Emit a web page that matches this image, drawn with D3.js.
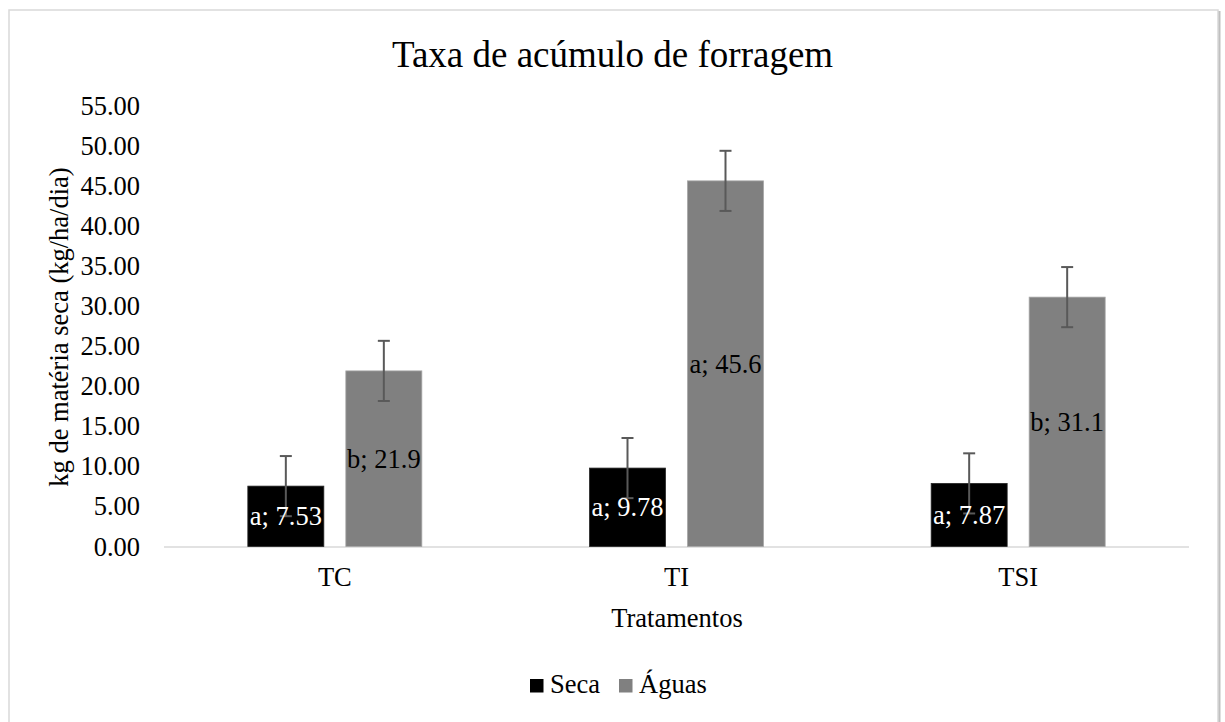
<!DOCTYPE html>
<html>
<head>
<meta charset="utf-8">
<script src="https://cdn.jsdelivr.net/npm/d3@7"></script>
<style>
  body { margin: 0; background: #fff; }
</style>
</head>
<body>
<svg id="chart" width="1225" height="722"></svg>
<script>
// chart data
const categories = ["TC", "TI", "TSI"];
const series = ["Seca", "Águas"];
const seca = [7.53, 9.78, 7.87];
const aguas = [21.9, 45.6, 31.1];
const secaErr = [3.75, 3.75, 3.75];
const aguasErr = [3.75, 3.75, 3.75];
const secaLetters = ["a", "a", "a"];
const aguasLetters = ["b", "a", "b"];
const yTicks = [0, 5, 10, 15, 20, 25, 30, 35, 40, 45, 50, 55];

const colors = { "Seca": "#000000", "Águas": "#808080" };
const labelColors = { "Seca": "#ffffff", "Águas": "#000000" };
const FONT = "Liberation Serif";
const FS = 26.5;

const rows = [];
categories.forEach((c, i) => {
  rows.push({ cat: c, s: "Seca", v: seca[i], e: secaErr[i], l: secaLetters[i] });
  rows.push({ cat: c, s: "Águas", v: aguas[i], e: aguasErr[i], l: aguasLetters[i] });
});

const svg = d3.select("#chart"),
  width = +svg.attr("width"),
  height = +svg.attr("height");

// outer frame
svg.append("rect")
  .attr("x", 9).attr("y", 10)
  .attr("width", 1209).attr("height", 720)
  .attr("fill", "#fff")
  .attr("stroke", "#d9d9d9")
  .attr("stroke-width", 1.5);
svg.append("line")
  .attr("x1", 1219.5).attr("x2", 1219.5)
  .attr("y1", 11).attr("y2", height)
  .attr("stroke", "#bfbfbf").attr("stroke-width", 2);

const plotL = 164, plotR = 1189, plotT = 105.5, plotB = 546.5;

const x0 = d3.scaleBand().domain(categories).range([plotL, plotR]).padding(0);
const bw = x0.bandwidth();
const x1 = d3.scaleBand().domain(series)
  .range([bw / 2 - 87, bw / 2 + 87])
  .paddingInner(0.2245);
const y = d3.scaleLinear().domain([0, 55]).range([plotB, plotT]);

// title
svg.append("text")
  .attr("x", 612.5).attr("y", 67)
  .attr("text-anchor", "middle")
  .attr("font-family", FONT)
  .attr("font-size", 37)
  .attr("fill", "#000")
  .text("Taxa de acúmulo de forragem");

// y axis labels
svg.append("g")
  .selectAll("text")
  .data(yTicks)
  .enter().append("text")
    .attr("x", 140)
    .attr("y", d => y(d))
    .attr("dy", "0.34em")
    .attr("text-anchor", "end")
    .attr("font-family", FONT)
    .attr("font-size", FS)
    .text(d => d3.format(".2f")(d));

svg.append("text")
  .attr("transform", "translate(68,327) rotate(-90)")
  .attr("text-anchor", "middle")
  .attr("font-family", FONT)
  .attr("font-size", FS)
  .text("kg de matéria seca (kg/ha/dia)");

// baseline
svg.append("line")
  .attr("x1", plotL).attr("x2", plotR)
  .attr("y1", y(0) + 0.5).attr("y2", y(0) + 0.5)
  .attr("stroke", "#d9d9d9").attr("stroke-width", 1.5);

// bars
const g = svg.append("g");
g.selectAll("rect.bar")
  .data(rows)
  .enter().append("rect")
    .attr("class", "bar")
    .attr("x", d => x0(d.cat) + x1(d.s))
    .attr("y", d => y(d.v))
    .attr("width", x1.bandwidth())
    .attr("height", d => y(0) - y(d.v))
    .attr("fill", d => colors[d.s])
    .attr("stroke", d => d.s === "Seca" ? "#262626" : "#a6a6a6")
    .attr("stroke-width", 0.8);

// error bars
const eb = g.selectAll("g.err")
  .data(rows)
  .enter().append("g")
    .attr("class", "err")
    .attr("stroke", "#595959")
    .attr("stroke-width", 2);
const cx = d => x0(d.cat) + x1(d.s) + x1.bandwidth() / 2;
eb.append("line")
  .attr("x1", cx).attr("x2", cx)
  .attr("y1", d => y(d.v + d.e)).attr("y2", d => y(d.v - d.e));
eb.append("line")
  .attr("x1", d => cx(d) - 6).attr("x2", d => cx(d) + 6)
  .attr("y1", d => y(d.v + d.e)).attr("y2", d => y(d.v + d.e));
eb.append("line")
  .attr("x1", d => cx(d) - 6).attr("x2", d => cx(d) + 6)
  .attr("y1", d => y(d.v - d.e)).attr("y2", d => y(d.v - d.e));

// data labels
g.selectAll("text.lbl")
  .data(rows)
  .enter().append("text")
    .attr("class", "lbl")
    .attr("x", cx)
    .attr("y", d => y(d.v / 2))
    .attr("dy", "0.34em")
    .attr("text-anchor", "middle")
    .attr("font-family", FONT)
    .attr("font-size", FS)
    .attr("fill", d => labelColors[d.s])
    .text(d => d.l + "; " + (d.s === "Seca" ? d3.format(".2f")(d.v) : d3.format(".1f")(d.v)));

// category labels
svg.append("g")
  .selectAll("text")
  .data(categories)
  .enter().append("text")
    .attr("x", d => x0(d) + bw / 2)
    .attr("y", 586)
    .attr("text-anchor", "middle")
    .attr("font-family", FONT)
    .attr("font-size", FS)
    .text(d => d);

svg.append("text")
  .attr("x", 677).attr("y", 627)
  .attr("text-anchor", "middle")
  .attr("font-family", FONT)
  .attr("font-size", FS)
  .text("Tratamentos");

// legend
const legend = svg.append("g");
const legX = [530, 619];
series.forEach((s, i) => {
  legend.append("rect")
    .attr("x", legX[i]).attr("y", 679)
    .attr("width", 13.5).attr("height", 13.5)
    .attr("fill", colors[s]);
  legend.append("text")
    .attr("x", legX[i] + 20).attr("y", 693)
    .attr("font-family", FONT)
    .attr("font-size", FS)
    .text(s);
});
</script>
</body>
</html>
